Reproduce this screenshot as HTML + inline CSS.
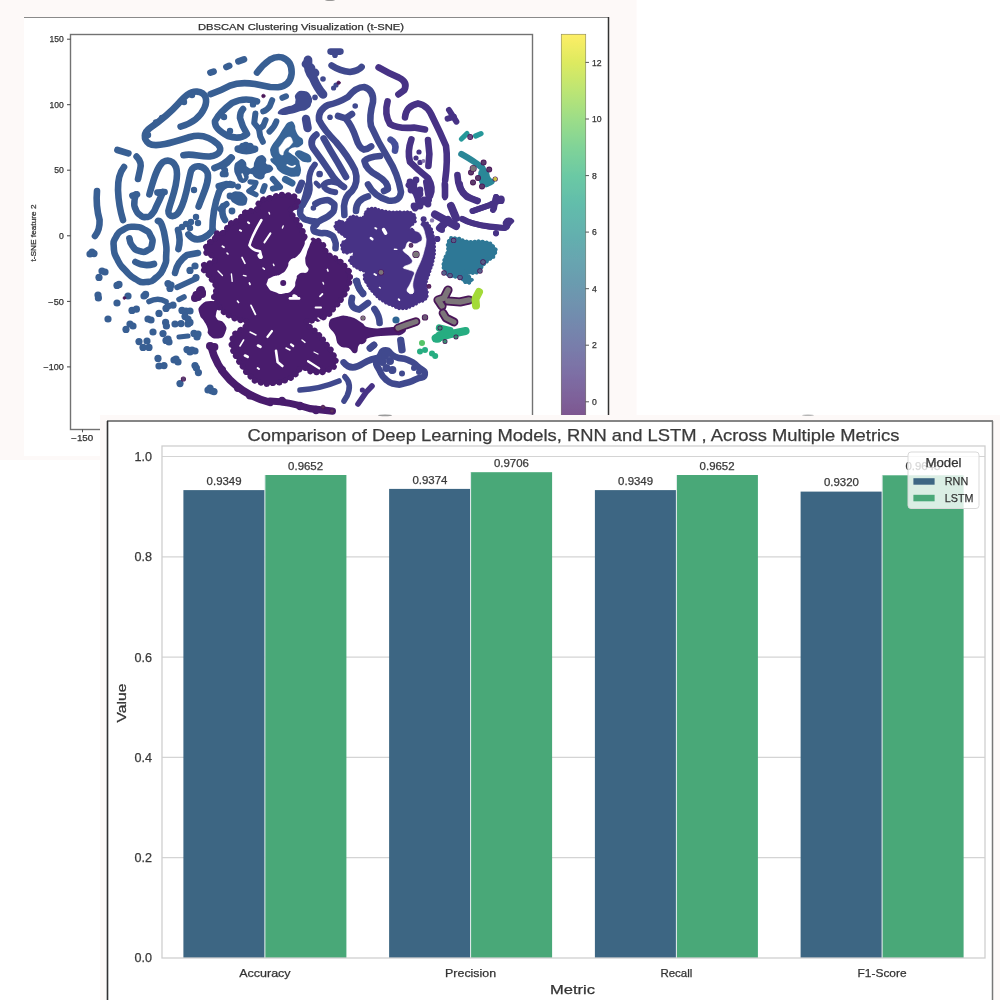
<!DOCTYPE html>
<html><head><meta charset="utf-8">
<style>
html,body{margin:0;padding:0;background:#fff;}
body{width:1000px;height:1000px;overflow:hidden;position:relative;font-family:"Liberation Sans",sans-serif;}
svg{position:absolute;left:0;top:0;display:block;}
text{font-family:"Liberation Sans",sans-serif;}
</style></head><body>
<svg width="1000" height="1000" viewBox="0 0 1000 1000">
<defs>
<linearGradient id="cb" x1="0" y1="1" x2="0" y2="0">
<stop offset="0.0000" stop-color="#7c4d87"/>
<stop offset="0.0714" stop-color="#7e5f98"/>
<stop offset="0.1429" stop-color="#7d6fa5"/>
<stop offset="0.2143" stop-color="#787eab"/>
<stop offset="0.2857" stop-color="#728cae"/>
<stop offset="0.3571" stop-color="#6c99af"/>
<stop offset="0.4286" stop-color="#67a5b0"/>
<stop offset="0.5000" stop-color="#63b1ae"/>
<stop offset="0.5714" stop-color="#62bdab"/>
<stop offset="0.6429" stop-color="#6bc9a4"/>
<stop offset="0.7143" stop-color="#80d398"/>
<stop offset="0.7857" stop-color="#9cdd88"/>
<stop offset="0.8571" stop-color="#bce574"/>
<stop offset="0.9286" stop-color="#ddea60"/>
<stop offset="1.0000" stop-color="#fdee66"/>
</linearGradient>
<filter id="bl" x="-2%" y="-2%" width="104%" height="104%"><feGaussianBlur stdDeviation="0.5"/></filter>
<filter id="bl2" x="-2%" y="-2%" width="104%" height="104%"><feGaussianBlur stdDeviation="0.45"/></filter>
<clipPath id="axclip"><rect x="71" y="35" width="461" height="394"/></clipPath>
</defs>
<rect x="0" y="0" width="636.6" height="460" fill="#fdf9f8"/>
<rect x="24" y="17" width="585" height="439" fill="#ffffff"/>
<g id="fig1" filter="url(#bl)" style="paint-order:stroke">
<ellipse cx="330" cy="-0.2" rx="5" ry="1" fill="#777"/>
<line x1="24" y1="17.5" x2="609" y2="17.5" stroke="#8a8a8a" stroke-width="1"/>
<line x1="608.5" y1="17" x2="608.5" y2="416" stroke="#333" stroke-width="1.5"/>
<g id="scatter" clip-path="url(#axclip)" fill="none" stroke-linecap="round" stroke-linejoin="round">
<g transform="translate(70,30) scale(0.2)">
<path d="M702 213 L718 208" stroke="#395e93" stroke-width="33"/>
<path d="M782 185 L796 179" stroke="#395e93" stroke-width="33"/>
<path d="M842 157 L870 147" stroke="#395e93" stroke-width="33"/>
<path d="M935 213 Q965 172 1000 148 Q1030 130 1060 137 Q1112 155 1108 220 Q1100 280 1040 286 L1000 285 L925 270 Q850 258 800 278 Q760 300 703 321" stroke="#395e93" stroke-width="33"/>
<path d="M553 483 C600 470 650 440 672 390 C690 350 680 312 635 308 C600 305 570 335 540 370 C500 415 450 455 400 490 C368 512 365 545 395 568 C430 590 520 560 600 535 C650 520 700 535 740 572 C765 600 745 628 700 632 C650 635 610 615 567 626" stroke="#395e93" stroke-width="33"/>
<circle cx="570" cy="360" r="16" fill="#395e93" stroke="none"/>
<circle cx="610" cy="325" r="16" fill="#395e93" stroke="none"/>
<circle cx="460" cy="440" r="16" fill="#395e93" stroke="none"/>
<circle cx="430" cy="462" r="16" fill="#395e93" stroke="none"/>
<circle cx="390" cy="525" r="16" fill="#395e93" stroke="none"/>
<path d="M237 600 L292 617" stroke="#395e93" stroke-width="33"/>
<path d="M333 633 Q362 660 350 700 L340 745" stroke="#395e93" stroke-width="33"/>
<path d="M270 685 Q238 725 240 800 Q243 880 265 950" stroke="#395e93" stroke-width="33"/>
<path d="M135 805 Q128 880 148 950 Q150 1000 125 1030" stroke="#395e93" stroke-width="33"/>
<path d="M330.0 822.0 C327.3 834.7 322.7 835.7 322.0 860.0 C321.3 884.3 318.7 873.3 328.0 895.0 C337.3 916.7 332.7 911.7 350.0 925.0 C367.3 938.3 360.0 936.7 380.0 935.0 C400.0 933.3 391.7 940.0 410.0 920.0 C428.3 900.0 416.7 911.7 435.0 875.0 C453.3 838.3 455.0 831.7 465.0 810.0" stroke="#395e93" stroke-width="33"/>
<path d="M312 828 L335 822" stroke="#395e93" stroke-width="33"/>
<path d="M437 813 L473 810" stroke="#395e93" stroke-width="33"/>
<path d="M397 822 C415 760 430 690 465 660 C500 640 535 665 535 720 C535 790 505 850 492 905 C490 940 530 940 550 900 C580 850 590 760 605 705 C620 670 670 675 688 715 C700 760 660 830 643 883" stroke="#395e93" stroke-width="33"/>
<circle cx="620" cy="800" r="16" fill="#395e93" stroke="none"/>
<path d="M722 690 Q770 675 805 638" stroke="#395e93" stroke-width="33"/>
<path d="M712 1000 Q712 900 745 810 Q760 775 800 770" stroke="#395e93" stroke-width="33"/>
<path d="M935 357 Q870 335 810 365 Q750 410 725 455 Q720 495 790 530 Q850 550 885 520 Q860 480 850 440 Q850 410 865 395" stroke="#395e93" stroke-width="33"/>
<circle cx="770" cy="435" r="16" fill="#395e93" stroke="none"/>
<circle cx="800" cy="505" r="16" fill="#395e93" stroke="none"/>
<circle cx="915" cy="372" r="16" fill="#395e93" stroke="none"/>
<path d="M765 880 Q755 920 775 950" stroke="#395e93" stroke-width="33"/>
<circle cx="810" cy="905" r="17" fill="#395e93" stroke="none"/>
<circle cx="800" cy="830" r="17" fill="#395e93" stroke="none"/>
<circle cx="580" cy="970" r="16" fill="#395e93" stroke="none"/>
<circle cx="605" cy="960" r="16" fill="#395e93" stroke="none"/>
<circle cx="630" cy="935" r="16" fill="#395e93" stroke="none"/>
<circle cx="640" cy="965" r="16" fill="#395e93" stroke="none"/>
<circle cx="600" cy="990" r="16" fill="#395e93" stroke="none"/>
<circle cx="560" cy="985" r="16" fill="#395e93" stroke="none"/>
<circle cx="967" cy="330" r="9" fill="#4a1458" stroke="#4a1458" stroke-width="3"/>
</g>
<g transform="translate(270,30) scale(0.2)">
<path d="M190 150 Q185 200 215 238 Q237 290 265 322" stroke="#414a8e" stroke-width="44"/>
<circle cx="205" cy="190" r="22" fill="#414a8e" stroke="none"/>
<circle cx="225" cy="215" r="22" fill="#414a8e" stroke="none"/>
<circle cx="180" cy="170" r="22" fill="#414a8e" stroke="none"/>
<circle cx="265" cy="245" r="14" fill="#414a8e" stroke="none"/>
<circle cx="225" cy="337" r="14" fill="#414a8e" stroke="none"/>
<path d="M303 108 L352 108" stroke="#414a8e" stroke-width="33"/>
<circle cx="325" cy="126" r="14" fill="#414a8e" stroke="none"/>
<path d="M308 177 Q350 205 400 210 Q440 205 458 185" stroke="#414a8e" stroke-width="33"/>
<circle cx="318" cy="290" r="13" fill="#414a8e" stroke="none"/>
<circle cx="330" cy="275" r="13" fill="#414a8e" stroke="none"/>
<circle cx="343" cy="264" r="9" fill="#4a1458" stroke="#4a1458" stroke-width="3"/>
<path d="M180 445 L188 490" stroke="#414a8e" stroke-width="42"/>
<path d="M490 772 Q520 830 590 852 Q650 862 655 810 Q640 720 590 640 Q540 560 505 480 Q495 430 515 360 Q520 300 470 285 Q430 285 390 335 Q340 365 290 375 Q240 400 245 450 Q270 500 330 560 Q390 630 425 700 Q445 760 410 805 Q375 830 370 880 L372 925" stroke="#414a8e" stroke-width="33"/>
<path d="M340 430 L378 442 L410 420 M378 442 Q410 480 430 540 Q445 590 470 598 Q490 595 506 582" stroke="#414a8e" stroke-width="33"/>
<circle cx="300" cy="436" r="14" fill="#414a8e" stroke="none"/>
<circle cx="426" cy="380" r="14" fill="#414a8e" stroke="none"/>
<path d="M232 523 Q195 550 215 590 Q260 650 300 710 Q330 760 370 785" stroke="#414a8e" stroke-width="33"/>
<path d="M268 542 Q300 600 340 665 L380 735" stroke="#414a8e" stroke-width="33"/>
<path d="M550 630 Q490 635 472 655 Q480 700 540 730 Q590 760 590 795 L570 805" stroke="#414a8e" stroke-width="33"/>
<path d="M543 187 Q590 215 645 238 Q690 260 672 300 L642 322" stroke="#473285" stroke-width="33"/>
<path d="M588 357 Q570 420 600 470 Q640 495 720 488 L775 497" stroke="#473285" stroke-width="33"/>
<path d="M675 437 Q680 380 740 367 Q790 375 815 440 Q850 510 880 580 Q890 650 876 750" stroke="#473285" stroke-width="33"/>
<path d="M875 775 L875 830" stroke="#473285" stroke-width="33"/>
<path d="M603 548 Q635 565 625 603" stroke="#44509a" stroke-width="33"/>
<path d="M707 547 Q685 610 700 660 Q740 700 790 740 Q820 790 800 830" stroke="#473285" stroke-width="33"/>
<path d="M790 550 L797 620 L792 680" stroke="#473285" stroke-width="33"/>
<circle cx="745" cy="610" r="13" fill="#473285" stroke="none"/>
<circle cx="730" cy="640" r="13" fill="#473285" stroke="none"/>
<circle cx="750" cy="662" r="13" fill="#473285" stroke="none"/>
<circle cx="767" cy="655" r="10" fill="#8a7ab0" stroke="none"/>
<circle cx="700" cy="760" r="17" fill="#473285" stroke="none"/>
<circle cx="730" cy="750" r="17" fill="#473285" stroke="none"/>
<circle cx="720" cy="790" r="17" fill="#473285" stroke="none"/>
<circle cx="750" cy="800" r="17" fill="#473285" stroke="none"/>
<circle cx="740" cy="830" r="17" fill="#473285" stroke="none"/>
<circle cx="770" cy="850" r="17" fill="#473285" stroke="none"/>
<circle cx="720" cy="880" r="17" fill="#473285" stroke="none"/>
<circle cx="750" cy="880" r="17" fill="#473285" stroke="none"/>
<circle cx="700" cy="775" r="17" fill="#473285" stroke="none"/>
<path d="M191.0 773.0 C184.5 799.0 184.5 809.8 171.5 851.0 C158.5 892.2 155.2 868.3 152.0 896.5 C148.8 924.7 146.6 916.7 161.8 935.5 C177.0 954.3 173.7 943.9 197.5 953.0 C221.3 962.1 226.7 949.1 233.2 962.8 C239.7 976.5 213.7 977.1 217.0 994.0 C220.3 1010.9 217.0 1004.8 243.0 1013.5 C269.0 1022.2 267.9 1007.0 295.0 1020.0 C322.1 1033.0 313.4 1028.7 324.2 1052.5 C335.0 1076.3 326.4 1078.5 327.5 1091.5" stroke="#414a8e" stroke-width="33"/>
<path d="M226.8 869.2 C240.9 863.6 241.9 855.1 269.0 852.3 C296.1 849.5 290.7 848.2 308.0 860.8 C325.3 873.4 323.2 869.4 321.0 890.0 C318.8 910.6 322.1 903.0 301.5 922.5 C280.9 942.0 282.0 935.1 259.2 948.5 C236.4 961.9 241.9 958.0 233.2 962.8" stroke="#414a8e" stroke-width="33"/>
<circle cx="217" cy="890" r="14" fill="#414a8e" stroke="none"/>
<path d="M430 905 Q430 850 490 832" stroke="#414a8e" stroke-width="33"/>
</g>
<g transform="translate(430,30) scale(0.2)">
<path d="M95 400 L132 458 M88 443 L120 434" stroke="#473285" stroke-width="30"/>
<path d="M157 545 L185 518" stroke="#25989a" stroke-width="26"/>
<path d="M228 530 L255 518" stroke="#25989a" stroke-width="26"/>
<circle cx="201" cy="535" r="11" fill="#6a4a80" stroke="#4a1458" stroke-width="7"/>
<path d="M157 620 Q220 655 262 690 Q285 730 278 770" stroke="#2a8797" stroke-width="32"/>
<path d="M255.0 700.0 C268.3 693.3 270.0 691.7 285.0 705.0 C300.0 718.3 288.3 723.3 300.0 740.0 C311.7 756.7 320.0 743.3 320.0 755.0 C320.0 766.7 316.7 766.7 300.0 775.0 C283.3 783.3 286.7 785.0 270.0 780.0 C253.3 775.0 258.3 778.3 250.0 760.0 C241.7 741.7 243.3 745.0 245.0 725.0 C246.7 705.0 241.7 706.7 255.0 700.0Z" fill="#2a8797" stroke="#2a8797" stroke-width="8"/>
<circle cx="268" cy="662" r="11" fill="#5a3a6a" stroke="#4a1458" stroke-width="8"/>
<circle cx="296" cy="698" r="11" fill="#5a3a6a" stroke="#4a1458" stroke-width="8"/>
<circle cx="205" cy="712" r="11" fill="#5a3a6a" stroke="#4a1458" stroke-width="8"/>
<circle cx="240" cy="740" r="11" fill="#5a3a6a" stroke="#4a1458" stroke-width="8"/>
<circle cx="215" cy="762" r="11" fill="#5a3a6a" stroke="#4a1458" stroke-width="8"/>
<circle cx="260" cy="782" r="11" fill="#5a3a6a" stroke="#4a1458" stroke-width="8"/>
<circle cx="216" cy="692" r="14" fill="#7c7479" stroke="#4a1458" stroke-width="7"/>
<circle cx="326" cy="745" r="10" fill="#c8c040" stroke="#4a1458" stroke-width="6"/>
<path d="M137 725 Q140 800 185 835 L235 855" stroke="#473285" stroke-width="33"/>
<path d="M215 905 L300 875 L350 850 M330 835 L320 892" stroke="#473285" stroke-width="30"/>
<circle cx="340" cy="848" r="18" fill="#473285" stroke="none"/>
<circle cx="355" cy="852" r="18" fill="#473285" stroke="none"/>
<path d="M160 945 Q200 970 300 982 L375 990" stroke="#473285" stroke-width="30"/>
<path d="M375.0 955.0 C388.3 946.7 401.7 943.3 410.0 950.0 C418.3 956.7 408.3 960.0 400.0 975.0 C391.7 990.0 395.0 995.0 385.0 995.0 C375.0 995.0 373.3 988.3 370.0 975.0 C366.7 961.7 361.7 963.3 375.0 955.0Z" fill="#473285" stroke="#473285" stroke-width="8"/>
</g>
<g transform="translate(70,230) scale(0.2)">
<path d="M440.0 -45.0 C446.3 -38.3 446.7 -56.7 459.0 -25.0 C471.3 6.7 469.7 0.0 477.0 50.0 C484.3 100.0 483.3 80.0 481.0 125.0 C478.7 170.0 486.3 147.7 470.0 185.0 C453.7 222.3 462.0 212.0 432.0 237.0 C402.0 262.0 415.0 257.3 380.0 260.0 C345.0 262.7 362.0 265.0 327.0 245.0 C292.0 225.0 305.0 232.7 275.0 200.0 C245.0 167.3 255.7 184.7 237.0 147.0 C218.3 109.3 221.3 124.3 219.0 87.0 C216.7 49.7 214.0 64.7 230.0 35.0 C246.0 5.3 237.0 15.0 267.0 -2.0 C297.0 -19.0 285.0 -16.0 320.0 -16.0 C355.0 -16.0 344.7 -16.3 372.0 -2.0 C399.3 12.3 389.3 2.3 402.0 27.0 C414.7 51.7 415.0 47.0 410.0 72.0 C405.0 97.0 407.0 90.7 387.0 102.0 C367.0 113.3 375.0 113.3 350.0 106.0 C325.0 98.7 329.7 101.3 312.0 80.0 C294.3 58.7 302.0 54.7 297.0 42.0" stroke="#395e93" stroke-width="33"/>
<path d="M327 160 Q370 185 420 170" stroke="#395e93" stroke-width="33"/>
<path d="M540 0 Q555 50 542 95" stroke="#395e93" stroke-width="33"/>
<path d="M592 22 Q630 70 690 25 L715 0" stroke="#395e93" stroke-width="33"/>
<path d="M525 215 Q535 160 585 125 L640 115" stroke="#395e93" stroke-width="33"/>
<circle cx="110" cy="110" r="18" fill="#395e93" stroke="none"/>
<circle cx="120" cy="118" r="18" fill="#395e93" stroke="none"/>
<circle cx="100" cy="120" r="18" fill="#395e93" stroke="none"/>
<circle cx="160" cy="205" r="18" fill="#395e93" stroke="none"/>
<circle cx="175" cy="210" r="18" fill="#395e93" stroke="none"/>
<circle cx="145" cy="237" r="18" fill="#395e93" stroke="none"/>
<circle cx="235" cy="277" r="18" fill="#395e93" stroke="none"/>
<circle cx="245" cy="272" r="18" fill="#395e93" stroke="none"/>
<circle cx="140" cy="325" r="18" fill="#395e93" stroke="none"/>
<circle cx="142" cy="340" r="18" fill="#395e93" stroke="none"/>
<circle cx="290" cy="330" r="18" fill="#395e93" stroke="none"/>
<circle cx="370" cy="330" r="18" fill="#395e93" stroke="none"/>
<circle cx="378" cy="322" r="18" fill="#395e93" stroke="none"/>
<circle cx="235" cy="365" r="18" fill="#395e93" stroke="none"/>
<circle cx="310" cy="402" r="18" fill="#395e93" stroke="none"/>
<circle cx="332" cy="396" r="18" fill="#395e93" stroke="none"/>
<circle cx="190" cy="445" r="18" fill="#395e93" stroke="none"/>
<circle cx="300" cy="470" r="18" fill="#395e93" stroke="none"/>
<circle cx="315" cy="480" r="18" fill="#395e93" stroke="none"/>
<circle cx="280" cy="497" r="18" fill="#395e93" stroke="none"/>
<circle cx="390" cy="445" r="18" fill="#395e93" stroke="none"/>
<circle cx="405" cy="450" r="18" fill="#395e93" stroke="none"/>
<circle cx="415" cy="510" r="18" fill="#395e93" stroke="none"/>
<circle cx="345" cy="558" r="18" fill="#395e93" stroke="none"/>
<circle cx="385" cy="555" r="18" fill="#395e93" stroke="none"/>
<circle cx="365" cy="587" r="18" fill="#395e93" stroke="none"/>
<circle cx="395" cy="587" r="18" fill="#395e93" stroke="none"/>
<circle cx="440" cy="642" r="18" fill="#395e93" stroke="none"/>
<circle cx="445" cy="680" r="18" fill="#395e93" stroke="none"/>
<circle cx="470" cy="678" r="18" fill="#395e93" stroke="none"/>
<circle cx="520" cy="650" r="18" fill="#395e93" stroke="none"/>
<circle cx="540" cy="660" r="18" fill="#395e93" stroke="none"/>
<circle cx="530" cy="645" r="18" fill="#395e93" stroke="none"/>
<circle cx="550" cy="768" r="18" fill="#395e93" stroke="none"/>
<circle cx="625" cy="678" r="18" fill="#395e93" stroke="none"/>
<circle cx="632" cy="690" r="18" fill="#395e93" stroke="none"/>
<circle cx="642" cy="713" r="18" fill="#395e93" stroke="none"/>
<circle cx="690" cy="800" r="18" fill="#395e93" stroke="none"/>
<circle cx="710" cy="805" r="18" fill="#395e93" stroke="none"/>
<circle cx="700" cy="790" r="18" fill="#395e93" stroke="none"/>
<circle cx="720" cy="808" r="18" fill="#395e93" stroke="none"/>
<circle cx="585" cy="598" r="18" fill="#395e93" stroke="none"/>
<circle cx="610" cy="600" r="18" fill="#395e93" stroke="none"/>
<circle cx="625" cy="605" r="18" fill="#395e93" stroke="none"/>
<circle cx="600" cy="610" r="18" fill="#395e93" stroke="none"/>
<circle cx="480" cy="552" r="18" fill="#395e93" stroke="none"/>
<circle cx="495" cy="560" r="18" fill="#395e93" stroke="none"/>
<circle cx="490" cy="545" r="18" fill="#395e93" stroke="none"/>
<circle cx="465" cy="518" r="18" fill="#395e93" stroke="none"/>
<circle cx="478" cy="462" r="18" fill="#395e93" stroke="none"/>
<circle cx="482" cy="480" r="18" fill="#395e93" stroke="none"/>
<circle cx="525" cy="470" r="18" fill="#395e93" stroke="none"/>
<circle cx="555" cy="468" r="18" fill="#395e93" stroke="none"/>
<circle cx="600" cy="462" r="18" fill="#395e93" stroke="none"/>
<circle cx="590" cy="470" r="18" fill="#395e93" stroke="none"/>
<circle cx="560" cy="402" r="18" fill="#395e93" stroke="none"/>
<circle cx="580" cy="405" r="18" fill="#395e93" stroke="none"/>
<circle cx="600" cy="405" r="18" fill="#395e93" stroke="none"/>
<circle cx="575" cy="432" r="18" fill="#395e93" stroke="none"/>
<circle cx="590" cy="445" r="18" fill="#395e93" stroke="none"/>
<circle cx="620" cy="517" r="18" fill="#395e93" stroke="none"/>
<circle cx="635" cy="535" r="18" fill="#395e93" stroke="none"/>
<circle cx="640" cy="520" r="18" fill="#395e93" stroke="none"/>
<circle cx="445" cy="417" r="18" fill="#395e93" stroke="none"/>
<circle cx="480" cy="392" r="18" fill="#395e93" stroke="none"/>
<circle cx="490" cy="380" r="18" fill="#395e93" stroke="none"/>
<circle cx="515" cy="376" r="18" fill="#395e93" stroke="none"/>
<circle cx="490" cy="268" r="18" fill="#395e93" stroke="none"/>
<circle cx="500" cy="292" r="18" fill="#395e93" stroke="none"/>
<circle cx="505" cy="275" r="18" fill="#395e93" stroke="none"/>
<circle cx="600" cy="202" r="18" fill="#395e93" stroke="none"/>
<circle cx="625" cy="180" r="18" fill="#395e93" stroke="none"/>
<circle cx="630" cy="238" r="18" fill="#395e93" stroke="none"/>
<circle cx="272" cy="340" r="7" fill="#4a1458" stroke="#4a1458" stroke-width="3"/>
<circle cx="567" cy="745" r="10" fill="#5a3a70" stroke="#4a1458" stroke-width="6"/>
<path d="M395 358 Q440 335 480 358" stroke="#395e93" stroke-width="28"/>
<path d="M545 347 L570 335" stroke="#395e93" stroke-width="28"/>
<path d="M535 287 L630 243" stroke="#395e93" stroke-width="28"/>
<path d="M545 535 L590 530" stroke="#395e93" stroke-width="26"/>
<circle cx="632" cy="325" r="20" fill="#481b6d" stroke="none"/>
<circle cx="655" cy="300" r="20" fill="#481b6d" stroke="none"/>
<circle cx="640" cy="335" r="20" fill="#481b6d" stroke="none"/>
<circle cx="625" cy="340" r="20" fill="#481b6d" stroke="none"/>
<circle cx="660" cy="312" r="20" fill="#481b6d" stroke="none"/>
<path d="M705 582 Q730 680 800 750 Q880 830 1000 862" stroke="#481b6d" stroke-width="38"/>
<circle cx="700" cy="580" r="20" fill="#481b6d" stroke="none"/>
<circle cx="722" cy="585" r="20" fill="#481b6d" stroke="none"/>
<circle cx="760" cy="700" r="20" fill="#481b6d" stroke="none"/>
<circle cx="840" cy="790" r="20" fill="#481b6d" stroke="none"/>
<circle cx="900" cy="828" r="20" fill="#481b6d" stroke="none"/>
</g>
<g transform="translate(190,180) scale(0.2)">
<path d="M400.0 90.0 C443.3 78.3 435.0 71.7 480.0 75.0 C525.0 78.3 520.0 78.3 535.0 100.0 C550.0 121.7 535.0 120.0 525.0 140.0 C515.0 160.0 498.3 133.3 505.0 160.0 C511.7 186.7 521.7 176.7 545.0 220.0 C568.3 263.3 562.7 253.3 575.0 290.0 C587.3 326.7 573.7 323.3 582.0 330.0 C590.3 336.7 577.3 316.7 600.0 310.0 C622.7 303.3 620.0 290.0 650.0 310.0 C680.0 330.0 660.0 340.0 690.0 370.0 C720.0 400.0 710.0 376.7 740.0 400.0 C770.0 423.3 760.0 413.3 780.0 440.0 C800.0 466.7 798.3 446.7 800.0 480.0 C801.7 513.3 798.3 503.3 785.0 540.0 C771.7 576.7 781.7 556.7 760.0 590.0 C738.3 623.3 746.7 610.0 720.0 640.0 C693.3 670.0 713.3 660.0 680.0 680.0 C646.7 700.0 651.7 688.3 620.0 700.0 C588.3 711.7 578.3 691.7 585.0 715.0 C591.7 738.3 608.3 735.0 640.0 770.0 C671.7 805.0 655.0 786.7 680.0 820.0 C705.0 853.3 700.0 838.3 715.0 870.0 C730.0 901.7 733.3 888.3 725.0 915.0 C716.7 941.7 725.0 935.0 690.0 950.0 C655.0 965.0 661.7 963.3 620.0 960.0 C578.3 956.7 595.0 936.7 565.0 940.0 C535.0 943.3 558.3 950.0 530.0 970.0 C501.7 990.0 516.7 985.0 480.0 1000.0 C443.3 1015.0 463.3 1011.0 420.0 1015.0 C376.7 1019.0 390.0 1023.7 350.0 1012.0 C310.0 1000.3 328.3 1005.7 300.0 980.0 C271.7 954.3 286.7 965.0 265.0 935.0 C243.3 905.0 252.7 921.7 235.0 890.0 C217.3 858.3 219.7 871.7 212.0 840.0 C204.3 808.3 204.3 821.7 212.0 795.0 C219.7 768.3 215.7 778.3 235.0 760.0 C254.3 741.7 253.3 756.0 270.0 740.0 C286.7 724.0 291.7 725.3 285.0 712.0 C278.3 698.7 278.3 710.7 250.0 700.0 C221.7 689.3 233.3 700.0 200.0 680.0 C166.7 660.0 173.3 666.7 150.0 640.0 C126.7 613.3 140.0 620.0 130.0 600.0 C120.0 580.0 120.0 600.0 120.0 580.0 C120.0 560.0 133.3 566.7 130.0 540.0 C126.7 513.3 123.3 523.3 110.0 500.0 C96.7 476.7 105.0 490.0 90.0 470.0 C75.0 450.0 68.3 456.7 65.0 440.0 C61.7 423.3 61.7 430.0 80.0 420.0 C98.3 410.0 110.0 423.3 120.0 410.0 C130.0 396.7 123.3 396.7 110.0 380.0 C96.7 363.3 86.7 380.0 80.0 360.0 C73.3 340.0 76.7 340.0 90.0 320.0 C103.3 300.0 106.7 316.7 120.0 300.0 C133.3 283.3 113.3 283.3 130.0 270.0 C146.7 256.7 146.7 276.7 170.0 260.0 C193.3 243.3 176.7 240.0 200.0 220.0 C223.3 200.0 213.3 220.0 240.0 200.0 C266.7 180.0 250.0 176.7 280.0 160.0 C310.0 143.3 306.7 166.7 330.0 150.0 C353.3 133.3 326.7 130.0 350.0 110.0 C373.3 90.0 356.7 101.7 400.0 90.0Z" fill="#481b6d" stroke="#481b6d" stroke-width="12"/>
<path d="M400.0 90.0 C443.3 78.3 435.0 71.7 480.0 75.0 C525.0 78.3 520.0 78.3 535.0 100.0 C550.0 121.7 535.0 120.0 525.0 140.0 C515.0 160.0 498.3 133.3 505.0 160.0 C511.7 186.7 521.7 176.7 545.0 220.0 C568.3 263.3 562.7 253.3 575.0 290.0 C587.3 326.7 573.7 323.3 582.0 330.0 C590.3 336.7 577.3 316.7 600.0 310.0 C622.7 303.3 620.0 290.0 650.0 310.0 C680.0 330.0 660.0 340.0 690.0 370.0 C720.0 400.0 710.0 376.7 740.0 400.0 C770.0 423.3 760.0 413.3 780.0 440.0 C800.0 466.7 798.3 446.7 800.0 480.0 C801.7 513.3 798.3 503.3 785.0 540.0 C771.7 576.7 781.7 556.7 760.0 590.0 C738.3 623.3 746.7 610.0 720.0 640.0 C693.3 670.0 713.3 660.0 680.0 680.0 C646.7 700.0 651.7 688.3 620.0 700.0 C588.3 711.7 578.3 691.7 585.0 715.0 C591.7 738.3 608.3 735.0 640.0 770.0 C671.7 805.0 655.0 786.7 680.0 820.0 C705.0 853.3 700.0 838.3 715.0 870.0 C730.0 901.7 733.3 888.3 725.0 915.0 C716.7 941.7 725.0 935.0 690.0 950.0 C655.0 965.0 661.7 963.3 620.0 960.0 C578.3 956.7 595.0 936.7 565.0 940.0 C535.0 943.3 558.3 950.0 530.0 970.0 C501.7 990.0 516.7 985.0 480.0 1000.0 C443.3 1015.0 463.3 1011.0 420.0 1015.0 C376.7 1019.0 390.0 1023.7 350.0 1012.0 C310.0 1000.3 328.3 1005.7 300.0 980.0 C271.7 954.3 286.7 965.0 265.0 935.0 C243.3 905.0 252.7 921.7 235.0 890.0 C217.3 858.3 219.7 871.7 212.0 840.0 C204.3 808.3 204.3 821.7 212.0 795.0 C219.7 768.3 215.7 778.3 235.0 760.0 C254.3 741.7 253.3 756.0 270.0 740.0 C286.7 724.0 291.7 725.3 285.0 712.0 C278.3 698.7 278.3 710.7 250.0 700.0 C221.7 689.3 233.3 700.0 200.0 680.0 C166.7 660.0 173.3 666.7 150.0 640.0 C126.7 613.3 140.0 620.0 130.0 600.0 C120.0 580.0 120.0 600.0 120.0 580.0 C120.0 560.0 133.3 566.7 130.0 540.0 C126.7 513.3 123.3 523.3 110.0 500.0 C96.7 476.7 105.0 490.0 90.0 470.0 C75.0 450.0 68.3 456.7 65.0 440.0 C61.7 423.3 61.7 430.0 80.0 420.0 C98.3 410.0 110.0 423.3 120.0 410.0 C130.0 396.7 123.3 396.7 110.0 380.0 C96.7 363.3 86.7 380.0 80.0 360.0 C73.3 340.0 76.7 340.0 90.0 320.0 C103.3 300.0 106.7 316.7 120.0 300.0 C133.3 283.3 113.3 283.3 130.0 270.0 C146.7 256.7 146.7 276.7 170.0 260.0 C193.3 243.3 176.7 240.0 200.0 220.0 C223.3 200.0 213.3 220.0 240.0 200.0 C266.7 180.0 250.0 176.7 280.0 160.0 C310.0 143.3 306.7 166.7 330.0 150.0 C353.3 133.3 326.7 130.0 350.0 110.0 C373.3 90.0 356.7 101.7 400.0 90.0Z" fill="none" stroke="#481b6d" stroke-width="30" stroke-dasharray="0.1 31"/>
<path d="M60.0 630.0 C41.7 649.3 50.0 646.7 55.0 670.0 C60.0 693.3 61.7 676.7 75.0 700.0 C88.3 723.3 86.7 716.7 95.0 740.0 C103.3 763.3 85.0 755.0 100.0 770.0 C115.0 785.0 116.7 788.3 140.0 785.0 C163.3 781.7 161.7 781.7 170.0 760.0 C178.3 738.3 178.3 740.0 165.0 720.0 C151.7 700.0 143.3 720.0 130.0 700.0 C116.7 680.0 121.7 683.3 125.0 660.0 C128.3 636.7 145.0 646.0 140.0 630.0 C135.0 614.0 136.7 612.0 110.0 612.0 C83.3 612.0 78.3 610.7 60.0 630.0Z" fill="#481b6d" stroke="#481b6d" stroke-width="14"/>
<circle cx="50" cy="555" r="20" fill="#481b6d" stroke="none"/>
<circle cx="32" cy="585" r="20" fill="#481b6d" stroke="none"/>
<circle cx="60" cy="570" r="20" fill="#481b6d" stroke="none"/>
<circle cx="40" cy="572" r="20" fill="#481b6d" stroke="none"/>
<path d="M700.0 720.0 C703.3 693.3 706.7 700.0 740.0 690.0 C773.3 680.0 763.3 681.7 800.0 690.0 C836.7 698.3 816.7 696.7 850.0 715.0 C883.3 733.3 850.0 736.0 900.0 745.0 C950.0 754.0 946.7 745.3 1000.0 742.0 C1053.3 738.7 1040.0 727.3 1060.0 735.0 C1080.0 742.7 1080.0 752.7 1060.0 765.0 C1040.0 777.3 1053.3 766.3 1000.0 772.0 C946.7 777.7 943.3 769.3 900.0 782.0 C856.7 794.7 890.0 796.7 870.0 810.0 C850.0 823.3 855.0 805.3 840.0 822.0 C825.0 838.7 840.0 855.7 825.0 860.0 C810.0 864.3 820.0 847.7 795.0 835.0 C770.0 822.3 771.7 843.7 750.0 822.0 C728.3 800.3 746.7 804.0 730.0 770.0 C713.3 736.0 696.7 746.7 700.0 720.0Z" fill="#481b6d" stroke="#481b6d" stroke-width="12"/>
<path d="M580.0 300.0 C567.0 311.7 581.3 308.3 567.0 335.0 C552.7 361.7 559.3 357.7 537.0 380.0 C514.7 402.3 517.3 382.0 500.0 402.0 C482.7 422.0 500.0 417.3 485.0 440.0 C470.0 462.7 480.0 455.0 455.0 470.0 C430.0 485.0 432.7 472.7 410.0 485.0 C387.3 497.3 393.3 489.7 387.0 507.0 C380.7 524.3 378.3 519.3 391.0 537.0 C403.7 554.7 398.7 550.0 425.0 560.0 C451.3 570.0 440.0 572.0 470.0 567.0 C500.0 562.0 495.0 567.3 515.0 545.0 C535.0 522.7 520.0 525.0 530.0 500.0 C540.0 475.0 525.0 485.0 545.0 470.0 C565.0 455.0 579.3 475.0 590.0 455.0 C600.7 435.0 579.0 440.0 577.0 410.0 C575.0 380.0 577.0 392.7 584.0 365.0 C591.0 337.3 590.7 348.7 598.0 327.0 C605.3 305.3 612.0 309.0 606.0 300.0 C600.0 291.0 593.0 288.3 580.0 300.0Z" fill="#ffffff" stroke="none"/>
<circle cx="466" cy="515" r="15" fill="#481b6d" stroke="none"/>
<path d="M357 200 Q312 275 297 327 Q312 352 350 357 L357 387" stroke="#ffffff" stroke-width="13"/>
<path d="M348 378 L352 384" stroke="#ffffff" stroke-width="22"/>
<path d="M402 267 L372 312" stroke="#ffffff" stroke-width="10"/>
<path d="M500 592 L545 592" stroke="#ffffff" stroke-width="14"/>
<path d="M520 580 L530 584" stroke="#ffffff" stroke-width="18"/>
<path d="M628 637 L655 637" stroke="#ffffff" stroke-width="10"/>
<path d="M650 582 L662 570" stroke="#ffffff" stroke-width="9"/>
<path d="M687 447 L690 455" stroke="#ffffff" stroke-width="8"/>
<path d="M665 512 L668 520" stroke="#ffffff" stroke-width="7"/>
<path d="M305 627 L327 672" stroke="#ffffff" stroke-width="9"/>
<path d="M410 755 L387 785" stroke="#ffffff" stroke-width="11"/>
<path d="M340 828 L352 834" stroke="#ffffff" stroke-width="14"/>
<path d="M275 878 L288 884" stroke="#ffffff" stroke-width="14"/>
<path d="M430 854 L438 910 L462 930" stroke="#ffffff" stroke-width="13"/>
<path d="M590 906 L646 942" stroke="#ffffff" stroke-width="11"/>
<path d="M505 822 L516 830" stroke="#ffffff" stroke-width="11"/>
<path d="M250 830 L268 800" stroke="#ffffff" stroke-width="8"/>
<path d="M338 940 L345 945" stroke="#ffffff" stroke-width="10"/>
<path d="M260 387 L275 417" stroke="#ffffff" stroke-width="8"/>
<path d="M207 470 L211 507" stroke="#ffffff" stroke-width="7"/>
<path d="M140 455 L162 477" stroke="#ffffff" stroke-width="7"/>
<path d="M162 331 L170 336" stroke="#ffffff" stroke-width="9"/>
<path d="M185 365 L190 370" stroke="#ffffff" stroke-width="8"/>
<path d="M290 211 L296 216" stroke="#ffffff" stroke-width="10"/>
<path d="M249 251 L256 254" stroke="#ffffff" stroke-width="9"/>
<path d="M297 515 L300 522" stroke="#ffffff" stroke-width="9"/>
<path d="M267 477 L280 480" stroke="#ffffff" stroke-width="7"/>
<path d="M237 605 L243 612" stroke="#ffffff" stroke-width="8"/>
<path d="M365 440 L372 446" stroke="#ffffff" stroke-width="8"/>
<path d="M417 421 L420 428" stroke="#ffffff" stroke-width="7"/>
<path d="M395 162 L398 170" stroke="#ffffff" stroke-width="7"/>
<path d="M466 230 L462 240" stroke="#ffffff" stroke-width="7"/>
<path d="M640 690 L652 700" stroke="#ffffff" stroke-width="7"/>
<path d="M560 800 L575 812" stroke="#ffffff" stroke-width="7"/>
<path d="M480 840 L500 850" stroke="#ffffff" stroke-width="7"/>
<path d="M300 760 L330 775" stroke="#ffffff" stroke-width="7"/>
<path d="M620 860 L640 870" stroke="#ffffff" stroke-width="6"/>
</g>
<g transform="translate(320,180) scale(0.2)">
<path d="M230.0 160.0 C242.0 148.0 232.0 144.0 260.0 142.0 C288.0 140.0 280.0 148.0 314.0 154.0 C348.0 160.0 330.0 158.0 362.0 160.0 C394.0 162.0 378.0 158.0 410.0 160.0 C442.0 162.0 436.0 154.0 458.0 166.0 C480.0 178.0 474.0 178.0 476.0 196.0 C478.0 214.0 476.0 205.0 464.0 220.0 C452.0 235.0 438.0 231.0 440.0 241.0 C442.0 251.0 451.0 242.0 470.0 250.0 C489.0 258.0 484.0 250.0 497.0 265.0 C510.0 280.0 510.0 280.0 509.0 295.0 C508.0 310.0 507.0 302.6 494.0 310.0 C481.0 317.4 488.0 318.2 470.0 317.2 C452.0 316.2 455.0 299.4 440.0 307.0 C425.0 314.6 434.0 324.6 425.0 340.0 C416.0 355.4 406.0 339.2 413.0 353.2 C420.0 367.2 431.0 362.4 446.0 382.0 C461.0 401.6 469.0 394.0 458.0 412.0 C447.0 430.0 419.0 424.0 413.0 436.0 C407.0 448.0 421.4 439.6 440.0 448.0 C458.6 456.4 461.2 448.2 468.8 461.2 C476.4 474.2 470.0 466.4 462.8 487.0 C455.6 507.6 457.6 502.4 447.2 523.0 C436.8 543.6 434.0 534.2 431.6 548.8 C429.2 563.4 429.2 558.4 440.0 566.8 C450.8 575.2 453.6 577.6 464.0 574.0 C474.4 570.4 470.8 572.0 471.2 556.0 C471.6 540.0 465.2 548.0 465.2 526.0 C465.2 504.0 465.2 514.0 471.2 490.0 C477.2 466.0 471.2 484.0 483.2 454.0 C495.2 424.0 494.2 434.0 507.2 400.0 C520.2 366.0 514.2 382.0 522.2 352.0 C530.2 322.0 530.2 334.0 531.2 310.0 C532.2 286.0 532.2 307.0 525.2 280.0 C518.2 253.0 510.6 251.0 510.2 229.0 C509.8 207.0 511.4 213.0 524.0 214.0 C536.6 215.0 534.0 210.0 548.0 232.0 C562.0 254.0 558.0 244.0 566.0 280.0 C574.0 316.0 572.0 300.0 572.0 340.0 C572.0 380.0 574.0 360.0 566.0 400.0 C558.0 440.0 560.0 420.0 548.0 460.0 C536.0 500.0 534.0 484.0 530.0 520.0 C526.0 556.0 538.0 542.0 536.0 568.0 C534.0 594.0 538.0 584.0 524.0 598.0 C510.0 612.0 514.0 600.0 494.0 610.0 C474.0 620.0 492.0 617.0 464.0 628.0 C436.0 639.0 444.0 643.0 410.0 643.0 C376.0 643.0 394.0 641.0 362.0 628.0 C330.0 615.0 344.0 624.0 314.0 604.0 C284.0 584.0 298.0 596.0 272.0 568.0 C246.0 540.0 253.0 548.0 236.0 520.0 C219.0 492.0 223.0 504.0 221.0 484.0 C219.0 464.0 237.0 472.0 230.0 460.0 C223.0 448.0 224.0 462.0 200.0 448.0 C176.0 434.0 174.0 436.0 158.0 418.0 C142.0 400.0 148.0 408.0 152.0 394.0 C156.0 380.0 166.0 388.0 170.0 376.0 C174.0 364.0 178.0 362.0 164.0 358.0 C150.0 354.0 146.0 370.0 128.0 364.0 C110.0 358.0 114.0 358.0 110.0 340.0 C106.0 322.0 106.0 324.0 116.0 310.0 C126.0 296.0 138.0 308.0 140.0 298.0 C142.0 288.0 140.0 296.0 122.0 280.0 C104.0 264.0 101.0 268.0 86.0 250.0 C71.0 232.0 73.0 241.0 77.0 226.0 C81.0 211.0 81.0 209.0 98.0 205.0 C115.0 201.0 112.0 219.0 128.0 214.0 C144.0 209.0 132.0 201.0 146.0 190.0 C160.0 179.0 152.0 181.0 170.0 181.0 C188.0 181.0 182.0 191.0 200.0 190.0 C218.0 189.0 214.0 188.0 224.0 178.0 C234.0 168.0 218.0 172.0 230.0 160.0Z" fill="#473285" stroke="#473285" stroke-width="8"/>
<path d="M230.0 160.0 C242.0 148.0 232.0 144.0 260.0 142.0 C288.0 140.0 280.0 148.0 314.0 154.0 C348.0 160.0 330.0 158.0 362.0 160.0 C394.0 162.0 378.0 158.0 410.0 160.0 C442.0 162.0 436.0 154.0 458.0 166.0 C480.0 178.0 474.0 178.0 476.0 196.0 C478.0 214.0 476.0 205.0 464.0 220.0 C452.0 235.0 438.0 231.0 440.0 241.0 C442.0 251.0 451.0 242.0 470.0 250.0 C489.0 258.0 484.0 250.0 497.0 265.0 C510.0 280.0 510.0 280.0 509.0 295.0 C508.0 310.0 507.0 302.6 494.0 310.0 C481.0 317.4 488.0 318.2 470.0 317.2 C452.0 316.2 455.0 299.4 440.0 307.0 C425.0 314.6 434.0 324.6 425.0 340.0 C416.0 355.4 406.0 339.2 413.0 353.2 C420.0 367.2 431.0 362.4 446.0 382.0 C461.0 401.6 469.0 394.0 458.0 412.0 C447.0 430.0 419.0 424.0 413.0 436.0 C407.0 448.0 421.4 439.6 440.0 448.0 C458.6 456.4 461.2 448.2 468.8 461.2 C476.4 474.2 470.0 466.4 462.8 487.0 C455.6 507.6 457.6 502.4 447.2 523.0 C436.8 543.6 434.0 534.2 431.6 548.8 C429.2 563.4 429.2 558.4 440.0 566.8 C450.8 575.2 453.6 577.6 464.0 574.0 C474.4 570.4 470.8 572.0 471.2 556.0 C471.6 540.0 465.2 548.0 465.2 526.0 C465.2 504.0 465.2 514.0 471.2 490.0 C477.2 466.0 471.2 484.0 483.2 454.0 C495.2 424.0 494.2 434.0 507.2 400.0 C520.2 366.0 514.2 382.0 522.2 352.0 C530.2 322.0 530.2 334.0 531.2 310.0 C532.2 286.0 532.2 307.0 525.2 280.0 C518.2 253.0 510.6 251.0 510.2 229.0 C509.8 207.0 511.4 213.0 524.0 214.0 C536.6 215.0 534.0 210.0 548.0 232.0 C562.0 254.0 558.0 244.0 566.0 280.0 C574.0 316.0 572.0 300.0 572.0 340.0 C572.0 380.0 574.0 360.0 566.0 400.0 C558.0 440.0 560.0 420.0 548.0 460.0 C536.0 500.0 534.0 484.0 530.0 520.0 C526.0 556.0 538.0 542.0 536.0 568.0 C534.0 594.0 538.0 584.0 524.0 598.0 C510.0 612.0 514.0 600.0 494.0 610.0 C474.0 620.0 492.0 617.0 464.0 628.0 C436.0 639.0 444.0 643.0 410.0 643.0 C376.0 643.0 394.0 641.0 362.0 628.0 C330.0 615.0 344.0 624.0 314.0 604.0 C284.0 584.0 298.0 596.0 272.0 568.0 C246.0 540.0 253.0 548.0 236.0 520.0 C219.0 492.0 223.0 504.0 221.0 484.0 C219.0 464.0 237.0 472.0 230.0 460.0 C223.0 448.0 224.0 462.0 200.0 448.0 C176.0 434.0 174.0 436.0 158.0 418.0 C142.0 400.0 148.0 408.0 152.0 394.0 C156.0 380.0 166.0 388.0 170.0 376.0 C174.0 364.0 178.0 362.0 164.0 358.0 C150.0 354.0 146.0 370.0 128.0 364.0 C110.0 358.0 114.0 358.0 110.0 340.0 C106.0 322.0 106.0 324.0 116.0 310.0 C126.0 296.0 138.0 308.0 140.0 298.0 C142.0 288.0 140.0 296.0 122.0 280.0 C104.0 264.0 101.0 268.0 86.0 250.0 C71.0 232.0 73.0 241.0 77.0 226.0 C81.0 211.0 81.0 209.0 98.0 205.0 C115.0 201.0 112.0 219.0 128.0 214.0 C144.0 209.0 132.0 201.0 146.0 190.0 C160.0 179.0 152.0 181.0 170.0 181.0 C188.0 181.0 182.0 191.0 200.0 190.0 C218.0 189.0 214.0 188.0 224.0 178.0 C234.0 168.0 218.0 172.0 230.0 160.0Z" fill="none" stroke="#473285" stroke-width="16" stroke-dasharray="0.1 18"/>
<path d="M512.0 235.0 C521.1 246.9 522.8 262.5 527.0 280.0 C531.2 297.5 531.4 293.2 530.0 310.0 C528.6 326.8 526.6 331.0 521.0 352.0 C515.4 373.0 515.1 376.2 506.0 400.0 C496.9 423.8 490.4 433.0 482.0 454.0 C473.6 475.0 474.2 473.2 470.0 490.0 C465.8 506.8 464.3 510.6 464.0 526.0 C463.7 541.4 470.2 546.2 468.8 556.0 C467.4 565.8 464.0 566.3 458.0 568.0 C452.0 569.7 448.3 567.7 443.0 563.2 C437.7 558.7 433.8 558.2 435.2 548.8 C436.6 539.4 442.3 537.4 449.0 523.0 C455.7 508.6 459.1 501.4 464.0 487.0 C468.9 472.6 474.9 470.0 470.0 461.2 C465.1 452.4 455.3 455.1 443.0 449.2 C430.7 443.3 413.4 444.4 417.2 436.0 C421.0 427.6 451.9 425.5 459.2 413.2 C466.5 400.9 458.5 397.2 448.4 383.2 C438.3 369.2 421.0 363.3 416.0 353.2 C411.0 343.1 420.9 350.1 426.8 340.0 C432.7 329.9 431.1 314.9 441.2 310.0 C451.3 305.1 457.4 318.7 470.0 319.0 C482.6 319.3 485.7 316.8 495.2 311.2 C504.7 305.6 510.0 305.8 510.8 295.0 C511.6 284.2 507.6 275.5 498.8 265.0 C490.0 254.5 475.5 258.4 473.0 250.0 C470.5 241.6 478.9 232.5 488.0 229.0 C497.1 225.5 502.9 223.1 512.0 235.0Z" fill="#ffffff" stroke="#ffffff" stroke-width="3"/>
<circle cx="518" cy="196" r="15" fill="#473285" stroke="none"/>
<circle cx="587" cy="295" r="15" fill="#473285" stroke="none"/>
<circle cx="560" cy="202" r="11" fill="#8a7ab0" stroke="none"/>
<path d="M318 248 L328 266" stroke="#ffffff" stroke-width="18"/>
<path d="M254 290 L262 296" stroke="#ffffff" stroke-width="12"/>
<path d="M276 240 L282 243" stroke="#ffffff" stroke-width="9"/>
<path d="M272 470 L280 475" stroke="#ffffff" stroke-width="10"/>
<path d="M372 346 L384 347" stroke="#ffffff" stroke-width="7"/>
<path d="M393 596 L397 600" stroke="#ffffff" stroke-width="9"/>
<path d="M297 537 L302 540" stroke="#ffffff" stroke-width="7"/>
<circle cx="545" cy="532" r="9" fill="#5a2a60" stroke="#4a1458" stroke-width="6"/>
<circle cx="480" cy="372" r="15" fill="#7c7479" stroke="#4a1458" stroke-width="7"/>
<circle cx="455" cy="327" r="9" fill="#5a3a6a" stroke="#4a1458" stroke-width="6"/>
<circle cx="305" cy="462" r="12" fill="#7c7479" stroke="#4a1458" stroke-width="6"/>
<circle cx="215" cy="690" r="10" fill="#7c7479" stroke="#4a1458" stroke-width="6"/>
<circle cx="525" cy="687" r="12" fill="#6a5575" stroke="#4a1458" stroke-width="8"/>
<path d="M445 25 Q490 60 495 120 L475 140" stroke="#473285" stroke-width="34"/>
<circle cx="455" cy="50" r="17" fill="#473285" stroke="none"/>
<circle cx="470" cy="20" r="17" fill="#473285" stroke="none"/>
<circle cx="500" cy="70" r="17" fill="#473285" stroke="none"/>
<circle cx="520" cy="110" r="17" fill="#473285" stroke="none"/>
<circle cx="540" cy="120" r="17" fill="#473285" stroke="none"/>
<path d="M530 10 L545 100" stroke="#473285" stroke-width="30"/>
<path d="M620 15 L625 90" stroke="#473285" stroke-width="24"/>
<path d="M700 20 Q705 80 790 103" stroke="#473285" stroke-width="30"/>
<path d="M762 155 L850 125 L905 98 M880 85 L865 150" stroke="#473285" stroke-width="30"/>
<circle cx="895" cy="100" r="18" fill="#473285" stroke="none"/>
<circle cx="905" cy="95" r="18" fill="#473285" stroke="none"/>
<path d="M575 172 L680 230 M655 130 L680 190 M600 240 L640 200" stroke="#473285" stroke-width="40"/>
<path d="M715 195 Q760 222 850 235 L915 240" stroke="#473285" stroke-width="28"/>
<path d="M925.0 200.0 C935.0 186.7 956.7 191.7 965.0 200.0 C973.3 208.3 960.0 211.7 950.0 225.0 C940.0 238.3 943.3 248.3 935.0 240.0 C926.7 231.7 915.0 213.3 925.0 200.0Z" fill="#473285" stroke="#473285" stroke-width="8"/>
<circle cx="880" cy="268" r="14" fill="#473285" stroke="none"/>
<path d="M644.0 305.0 C658.3 281.7 647.3 290.0 680.0 291.0 C712.7 292.0 698.0 302.3 742.0 308.0 C786.0 313.7 770.0 299.7 812.0 308.0 C854.0 316.3 848.0 310.7 868.0 333.0 C888.0 355.3 881.3 351.7 872.0 375.0 C862.7 398.3 860.0 384.3 840.0 403.0 C820.0 421.7 826.0 413.7 812.0 431.0 C798.0 448.3 816.7 443.3 798.0 455.0 C779.3 466.7 781.7 464.7 756.0 466.0 C730.3 467.3 723.3 452.0 721.0 459.0 C718.7 466.0 737.3 471.7 749.0 487.0 C760.7 502.3 763.0 496.7 756.0 505.0 C749.0 513.3 746.7 518.0 728.0 512.0 C709.3 506.0 723.3 497.7 700.0 487.0 C676.7 476.3 683.7 491.7 658.0 480.0 C632.3 468.3 635.7 477.7 623.0 452.0 C610.3 426.3 615.3 433.3 620.0 403.0 C624.7 372.7 629.0 393.7 637.0 361.0 C645.0 328.3 629.7 328.3 644.0 305.0Z" fill="#2e7896" stroke="#2e7896" stroke-width="10"/>
<path d="M644.0 305.0 C658.3 281.7 647.3 290.0 680.0 291.0 C712.7 292.0 698.0 302.3 742.0 308.0 C786.0 313.7 770.0 299.7 812.0 308.0 C854.0 316.3 848.0 310.7 868.0 333.0 C888.0 355.3 881.3 351.7 872.0 375.0 C862.7 398.3 860.0 384.3 840.0 403.0 C820.0 421.7 826.0 413.7 812.0 431.0 C798.0 448.3 816.7 443.3 798.0 455.0 C779.3 466.7 781.7 464.7 756.0 466.0 C730.3 467.3 723.3 452.0 721.0 459.0 C718.7 466.0 737.3 471.7 749.0 487.0 C760.7 502.3 763.0 496.7 756.0 505.0 C749.0 513.3 746.7 518.0 728.0 512.0 C709.3 506.0 723.3 497.7 700.0 487.0 C676.7 476.3 683.7 491.7 658.0 480.0 C632.3 468.3 635.7 477.7 623.0 452.0 C610.3 426.3 615.3 433.3 620.0 403.0 C624.7 372.7 629.0 393.7 637.0 361.0 C645.0 328.3 629.7 328.3 644.0 305.0Z" fill="none" stroke="#2e7896" stroke-width="18" stroke-dasharray="0.1 20"/>
<circle cx="668" cy="302" r="10" fill="#55608a" stroke="#4a1458" stroke-width="7"/>
<circle cx="620" cy="465" r="10" fill="#55608a" stroke="#4a1458" stroke-width="7"/>
<circle cx="650" cy="478" r="10" fill="#55608a" stroke="#4a1458" stroke-width="7"/>
<circle cx="700" cy="488" r="10" fill="#55608a" stroke="#4a1458" stroke-width="7"/>
<circle cx="815" cy="410" r="10" fill="#55608a" stroke="#4a1458" stroke-width="7"/>
<circle cx="800" cy="455" r="10" fill="#55608a" stroke="#4a1458" stroke-width="7"/>
<path d="M640 550 L620 590 L590 600 L610 630 M640 605 L700 610 L745 600" stroke="#4a1458" stroke-width="46"/>
<path d="M640 550 L620 590 L590 600 L610 630 M640 605 L700 610 L745 600" stroke="#7c7479" stroke-width="28"/>
<path d="M795 560 L777 595 L780 628" stroke="#a3da37" stroke-width="40"/>
<path d="M615 665 L630 690 L670 710" stroke="#4a1458" stroke-width="44"/>
<path d="M615 665 L630 690 L670 710" stroke="#7c7479" stroke-width="26"/>
<path d="M597 740 L650 752" stroke="#27ad81" stroke-width="36"/>
<path d="M578 792 Q650 768 728 755" stroke="#27ad81" stroke-width="40"/>
<circle cx="588" cy="790" r="24" fill="#27ad81" stroke="none"/>
<circle cx="600" cy="780" r="24" fill="#27ad81" stroke="none"/>
<circle cx="600" cy="740" r="9" fill="#3a8a70" stroke="#4a1458" stroke-width="7"/>
<circle cx="625" cy="808" r="9" fill="#3a8a70" stroke="#4a1458" stroke-width="7"/>
<circle cx="680" cy="785" r="9" fill="#3a8a70" stroke="#4a1458" stroke-width="7"/>
<circle cx="510" cy="815" r="15" fill="#55c467" stroke="none"/>
<circle cx="500" cy="857" r="15" fill="#27ad81" stroke="none"/>
<circle cx="525" cy="850" r="15" fill="#27ad81" stroke="none"/>
<circle cx="560" cy="868" r="15" fill="#27ad81" stroke="none"/>
<circle cx="576" cy="880" r="15" fill="#27ad81" stroke="none"/>
<circle cx="380" cy="700" r="18" fill="#2f6593" stroke="none"/>
<path d="M390 740 L430 725 L480 708" stroke="#4a1458" stroke-width="44"/>
<path d="M390 740 L430 725 L480 708" stroke="#7c7479" stroke-width="26"/>
<path d="M185 505 Q190 545 215 565" stroke="#414a8e" stroke-width="33"/>
<path d="M160 590 Q145 640 195 648 L240 615" stroke="#414a8e" stroke-width="33"/>
<path d="M272 645 Q298 680 298 715" stroke="#414a8e" stroke-width="33"/>
<path d="M402 800 L408 850" stroke="#414a8e" stroke-width="33"/>
<path d="M250 842 L270 825" stroke="#414a8e" stroke-width="33"/>
<path d="M118 912 Q155 958 215 918 Q255 892 305 888" stroke="#414a8e" stroke-width="33"/>
</g>
<g transform="translate(270,230) scale(0.2)">
<path d="M546.0 634.0 C562.0 615.3 551.3 602.0 578.0 602.0 C604.7 602.0 588.7 618.0 626.0 634.0 C663.3 650.0 652.7 634.0 690.0 650.0 C727.3 666.0 710.0 658.0 738.0 682.0 C766.0 706.0 776.7 700.7 774.0 722.0 C771.3 743.3 763.3 731.3 730.0 746.0 C696.7 760.7 708.7 758.0 674.0 766.0 C639.3 774.0 658.0 776.7 626.0 770.0 C594.0 763.3 604.7 770.0 578.0 746.0 C551.3 722.0 562.0 727.3 546.0 698.0 C530.0 668.7 530.0 679.3 530.0 658.0 C530.0 636.7 530.0 652.7 546.0 634.0Z" stroke="#414a8e" stroke-width="33"/>
<circle cx="562" cy="660" r="20" fill="#414a8e" stroke="none"/>
<circle cx="582" cy="690" r="20" fill="#414a8e" stroke="none"/>
<circle cx="600" cy="655" r="20" fill="#414a8e" stroke="none"/>
<circle cx="575" cy="630" r="20" fill="#414a8e" stroke="none"/>
<circle cx="590" cy="612" r="20" fill="#414a8e" stroke="none"/>
<circle cx="612" cy="700" r="20" fill="#414a8e" stroke="none"/>
<circle cx="610" cy="704" r="15" fill="#414a8e" stroke="none"/>
<circle cx="660" cy="718" r="15" fill="#414a8e" stroke="none"/>
<circle cx="745" cy="710" r="15" fill="#414a8e" stroke="none"/>
<circle cx="720" cy="690" r="15" fill="#414a8e" stroke="none"/>
<circle cx="374" cy="730" r="9" fill="#4a3a80" stroke="#4a1458" stroke-width="5"/>
<path d="M655 550 L662 600" stroke="#414a8e" stroke-width="33"/>
<path d="M500 590 L520 575" stroke="#414a8e" stroke-width="33"/>
<path d="M150 800 Q250 795 345 755" stroke="#414a8e" stroke-width="28"/>
<path d="M375 735 Q412 770 385 830 L370 855" stroke="#414a8e" stroke-width="28"/>
<path d="M440 870 L480 812 L510 780" stroke="#473285" stroke-width="28"/>
<circle cx="462" cy="800" r="13" fill="#473285" stroke="none"/>
<path d="M0 855 Q100 860 200 893 L312 906" stroke="#481b6d" stroke-width="36"/>
<circle cx="60" cy="855" r="21" fill="#481b6d" stroke="none"/>
<circle cx="150" cy="880" r="21" fill="#481b6d" stroke="none"/>
<circle cx="230" cy="900" r="21" fill="#481b6d" stroke="none"/>
<circle cx="265" cy="885" r="9" fill="#5a3060" stroke="#4a1458" stroke-width="5"/>
<circle cx="310" cy="905" r="9" fill="#5a3060" stroke="#4a1458" stroke-width="5"/>
<path d="M430 255 Q445 295 465 320" stroke="#414a8e" stroke-width="33"/>
</g>
<g transform="translate(430,230) scale(0.2)">
<circle cx="35" cy="45" r="15" fill="#473285" stroke="none"/>
<circle cx="330" cy="15" r="15" fill="#473285" stroke="none"/>
<circle cx="60" cy="0" r="15" fill="#473285" stroke="none"/>
</g>
<g transform="translate(220,90) scale(0.12)">
<path d="M435 85 L415 135 Q390 170 360 178" stroke="#395e93" stroke-width="50"/>
<path d="M520 65 L550 52" stroke="#395e93" stroke-width="50"/>
<path d="M295 195 L285 275 L325 325 L335 385 L357 432" stroke="#395e93" stroke-width="50"/>
<path d="M380 250 L360 300 L325 325" stroke="#395e93" stroke-width="50"/>
<path d="M470 262 Q455 310 412 347" stroke="#395e93" stroke-width="50"/>
<path d="M580.0 275.0 C556.0 285.0 570.0 278.3 540.0 320.0 C510.0 361.7 523.3 350.0 490.0 400.0 C456.7 450.0 460.0 430.0 440.0 470.0 C420.0 510.0 426.7 486.7 430.0 520.0 C433.3 553.3 450.0 548.3 450.0 570.0 C450.0 591.7 423.3 566.7 430.0 585.0 C436.7 603.3 446.7 596.7 470.0 625.0 C493.3 653.3 470.0 645.0 500.0 670.0 C530.0 695.0 520.0 686.0 560.0 700.0 C600.0 714.0 586.0 715.3 620.0 712.0 C654.0 708.7 650.3 720.7 662.0 690.0 C673.7 659.3 662.3 656.7 655.0 620.0 C647.7 583.3 661.7 606.7 640.0 580.0 C618.3 553.3 616.0 562.7 590.0 540.0 C564.0 517.3 558.7 534.7 562.0 512.0 C565.3 489.3 567.3 488.7 600.0 472.0 C632.7 455.3 632.7 479.3 660.0 462.0 C687.3 444.7 685.3 444.0 682.0 420.0 C678.7 396.0 670.0 416.7 650.0 390.0 C630.0 363.3 634.7 373.3 622.0 340.0 C609.3 306.7 626.0 311.7 612.0 290.0 C598.0 268.3 604.0 265.0 580.0 275.0Z" fill="#386597" stroke="#386597" stroke-width="20"/>
<path d="M565.0 395.0 C536.0 405.0 539.3 415.0 515.0 450.0 C490.7 485.0 490.3 469.3 492.0 500.0 C493.7 530.7 504.0 542.0 520.0 542.0 C536.0 542.0 517.3 527.3 540.0 500.0 C562.7 472.7 567.3 486.7 588.0 460.0 C608.7 433.3 609.7 441.7 602.0 420.0 C594.3 398.3 594.0 385.0 565.0 395.0Z" fill="#ffffff" stroke="#ffffff" stroke-width="4"/>
<path d="M560 625 Q600 655 625 630" stroke="#ffffff" stroke-width="14"/>
<path d="M640.0 520.0 C652.7 508.7 663.3 512.0 700.0 528.0 C736.7 544.0 742.7 546.7 750.0 568.0 C757.3 589.3 751.3 594.0 722.0 592.0 C692.7 590.0 689.3 586.0 662.0 562.0 C634.7 538.0 627.3 531.3 640.0 520.0Z" fill="#386597" stroke="#386597" stroke-width="22"/>
<path d="M545 745 L600 775" stroke="#386597" stroke-width="58"/>
<ellipse cx="220" cy="495" rx="95" ry="42" fill="#395e93"/>
<circle cx="150" cy="490" r="30" fill="#395e93" stroke="none"/>
<circle cx="290" cy="492" r="30" fill="#395e93" stroke="none"/>
<circle cx="215" cy="462" r="30" fill="#395e93" stroke="none"/>
<circle cx="250" cy="470" r="30" fill="#395e93" stroke="none"/>
<circle cx="190" cy="470" r="30" fill="#395e93" stroke="none"/>
<path d="M130.0 650.0 C133.3 610.0 136.7 616.7 160.0 600.0 C183.3 583.3 180.0 583.3 200.0 600.0 C220.0 616.7 193.3 631.7 220.0 650.0 C246.7 668.3 253.3 671.7 280.0 655.0 C306.7 638.3 283.3 631.7 300.0 600.0 C316.7 568.3 306.7 569.3 330.0 560.0 C353.3 550.7 355.0 552.0 370.0 572.0 C385.0 592.0 358.3 597.3 375.0 620.0 C391.7 642.7 405.0 623.3 420.0 640.0 C435.0 656.7 436.7 653.3 420.0 670.0 C403.3 686.7 393.3 670.0 370.0 690.0 C346.7 710.0 373.3 720.0 350.0 730.0 C326.7 740.0 326.7 733.3 300.0 720.0 C273.3 706.7 293.3 696.7 270.0 690.0 C246.7 683.3 246.0 683.3 230.0 700.0 C214.0 716.7 238.7 719.3 222.0 740.0 C205.3 760.7 204.0 768.7 180.0 762.0 C156.0 755.3 166.7 757.3 150.0 720.0 C133.3 682.7 126.7 690.0 130.0 650.0Z" fill="#395e93" stroke="#395e93" stroke-width="24"/>
<path d="M185 700 L195 730" stroke="#ffffff" stroke-width="14"/>
<path d="M255 625 L262 640" stroke="#ffffff" stroke-width="12"/>
<path d="M100 565 L60 610 L20 640" stroke="#395e93" stroke-width="50"/>
<circle cx="40" cy="670" r="28" fill="#395e93" stroke="none"/>
<circle cx="45" cy="700" r="28" fill="#395e93" stroke="none"/>
<circle cx="25" cy="700" r="28" fill="#395e93" stroke="none"/>
<path d="M-10 802 L50 785 L105 790" stroke="#395e93" stroke-width="56"/>
<circle cx="150" cy="805" r="26" fill="#395e93" stroke="none"/>
<path d="M250 765 L300 772 L282 812 L240 842 L300 872" stroke="#395e93" stroke-width="44"/>
<path d="M372 800 L357 842" stroke="#395e93" stroke-width="50"/>
<path d="M440 742 L500 808 L440 822" stroke="#395e93" stroke-width="50"/>
<path d="M100.0 870.0 C118.3 853.3 116.7 851.7 150.0 855.0 C183.3 858.3 178.3 855.0 200.0 880.0 C221.7 905.0 221.7 905.0 215.0 930.0 C208.3 955.0 208.3 951.7 180.0 955.0 C151.7 958.3 158.3 956.7 130.0 940.0 C101.7 923.3 105.0 928.3 95.0 905.0 C85.0 881.7 81.7 886.7 100.0 870.0Z" fill="#395e93" stroke="#395e93" stroke-width="20"/>
<path d="M55 950 L0 992" stroke="#395e93" stroke-width="50"/>
<path d="M640.0 40.0 C660.0 16.7 663.3 13.3 700.0 20.0 C736.7 26.7 733.3 30.0 750.0 60.0 C766.7 90.0 760.0 80.0 750.0 110.0 C740.0 140.0 753.3 130.0 720.0 150.0 C686.7 170.0 696.7 156.7 650.0 170.0 C603.3 183.3 626.0 181.3 580.0 190.0 C534.0 198.7 538.0 200.7 512.0 196.0 C486.0 191.3 486.0 191.3 502.0 176.0 C518.0 160.7 520.7 165.3 560.0 150.0 C599.3 134.7 593.3 150.0 620.0 130.0 C646.7 110.0 633.3 120.0 640.0 90.0 C646.7 60.0 620.0 63.3 640.0 40.0Z" fill="#404c8f" stroke="#404c8f" stroke-width="22"/>
<path d="M790 622 Q740 680 742 760 Q760 830 730 890 L690 960" stroke="#414a8e" stroke-width="50"/>
<path d="M680 775 L655 835" stroke="#414a8e" stroke-width="58"/>
<circle cx="830" cy="700" r="28" fill="#414a8e" stroke="none"/>
<path d="M800 775 L825 800" stroke="#414a8e" stroke-width="40"/>
<path d="M970 772 Q900 752 862 792 Q870 840 960 852" stroke="#414a8e" stroke-width="50"/>
</g>
</g>
<rect x="70.5" y="34.5" width="462" height="395" fill="none" stroke="#727272" stroke-width="1.4"/>
<rect x="561.5" y="34.5" width="24" height="395.5" fill="url(#cb)" stroke="#666655" stroke-opacity="0.85" stroke-width="1.1"/>
<line x1="67" y1="39.2" x2="70.5" y2="39.2" stroke="#444" stroke-width="1"/>
<text x="63.8" y="42.4" font-size="8.3" fill="#333" stroke="#333" stroke-width="0.25" text-anchor="end" textLength="14.2" lengthAdjust="spacingAndGlyphs">150</text>
<line x1="67" y1="104.7" x2="70.5" y2="104.7" stroke="#444" stroke-width="1"/>
<text x="63.8" y="107.9" font-size="8.3" fill="#333" stroke="#333" stroke-width="0.25" text-anchor="end" textLength="14.2" lengthAdjust="spacingAndGlyphs">100</text>
<line x1="67" y1="170.2" x2="70.5" y2="170.2" stroke="#444" stroke-width="1"/>
<text x="63.8" y="173.4" font-size="8.3" fill="#333" stroke="#333" stroke-width="0.25" text-anchor="end" textLength="9.6" lengthAdjust="spacingAndGlyphs">50</text>
<line x1="67" y1="235.8" x2="70.5" y2="235.8" stroke="#444" stroke-width="1"/>
<text x="63.8" y="239.0" font-size="8.3" fill="#333" stroke="#333" stroke-width="0.25" text-anchor="end" textLength="4.8" lengthAdjust="spacingAndGlyphs">0</text>
<line x1="67" y1="301.4" x2="70.5" y2="301.4" stroke="#444" stroke-width="1"/>
<text x="63.8" y="304.6" font-size="8.3" fill="#333" stroke="#333" stroke-width="0.25" text-anchor="end" textLength="15.5" lengthAdjust="spacingAndGlyphs">−50</text>
<line x1="67" y1="366.9" x2="70.5" y2="366.9" stroke="#444" stroke-width="1"/>
<text x="63.8" y="370.1" font-size="8.3" fill="#333" stroke="#333" stroke-width="0.25" text-anchor="end" textLength="20.3" lengthAdjust="spacingAndGlyphs">−100</text>
<line x1="82.5" y1="429.5" x2="82.5" y2="432.3" stroke="#444" stroke-width="0.9"/>
<text x="82.2" y="440.9" font-size="8.4" fill="#333" stroke="#333" stroke-width="0.25" text-anchor="middle" textLength="22" lengthAdjust="spacingAndGlyphs">−150</text>
<line x1="585.5" y1="401.8" x2="589" y2="401.8" stroke="#444" stroke-width="0.9"/>
<text x="592" y="405.0" font-size="8.3" fill="#333" stroke="#333" stroke-width="0.25" textLength="4.8" lengthAdjust="spacingAndGlyphs">0</text>
<line x1="585.5" y1="345.2" x2="589" y2="345.2" stroke="#444" stroke-width="0.9"/>
<text x="592" y="348.4" font-size="8.3" fill="#333" stroke="#333" stroke-width="0.25" textLength="4.8" lengthAdjust="spacingAndGlyphs">2</text>
<line x1="585.5" y1="288.7" x2="589" y2="288.7" stroke="#444" stroke-width="0.9"/>
<text x="592" y="291.9" font-size="8.3" fill="#333" stroke="#333" stroke-width="0.25" textLength="4.8" lengthAdjust="spacingAndGlyphs">4</text>
<line x1="585.5" y1="232.1" x2="589" y2="232.1" stroke="#444" stroke-width="0.9"/>
<text x="592" y="235.3" font-size="8.3" fill="#333" stroke="#333" stroke-width="0.25" textLength="4.8" lengthAdjust="spacingAndGlyphs">6</text>
<line x1="585.5" y1="175.6" x2="589" y2="175.6" stroke="#444" stroke-width="0.9"/>
<text x="592" y="178.8" font-size="8.3" fill="#333" stroke="#333" stroke-width="0.25" textLength="4.8" lengthAdjust="spacingAndGlyphs">8</text>
<line x1="585.5" y1="119.0" x2="589" y2="119.0" stroke="#444" stroke-width="0.9"/>
<text x="592" y="122.2" font-size="8.3" fill="#333" stroke="#333" stroke-width="0.25" textLength="9.6" lengthAdjust="spacingAndGlyphs">10</text>
<line x1="585.5" y1="62.4" x2="589" y2="62.4" stroke="#444" stroke-width="0.9"/>
<text x="592" y="65.6" font-size="8.3" fill="#333" stroke="#333" stroke-width="0.25" textLength="9.6" lengthAdjust="spacingAndGlyphs">12</text>
<text transform="translate(36,233) rotate(-90)" font-size="7.4" fill="#333" stroke="#333" stroke-width="0.25" text-anchor="middle" textLength="57" lengthAdjust="spacingAndGlyphs">t-SNE feature 2</text>
<text x="301" y="29.8" font-size="8.8" fill="#333" stroke="#333" stroke-width="0.25" text-anchor="middle" textLength="206" lengthAdjust="spacingAndGlyphs">DBSCAN Clustering Visualization (t-SNE)</text>
</g>
<g id="fig2">
<rect x="100" y="415" width="900" height="585" fill="#fdf9f8"/>
<rect x="107.5" y="421" width="885" height="590" fill="#ffffff"/>
<g filter="url(#bl2)">
<ellipse cx="385" cy="415.4" rx="7" ry="0.9" fill="#9a9a9a"/>
<ellipse cx="808" cy="415.2" rx="6" ry="0.8" fill="#b5b5b5"/>
<line x1="107" y1="421" x2="993" y2="421" stroke="#858585" stroke-width="1.9"/>
<line x1="107.5" y1="421" x2="107.5" y2="1000" stroke="#333" stroke-width="1.6"/>
<line x1="992.5" y1="421" x2="992.5" y2="1000" stroke="#777" stroke-width="1.5"/>
<line x1="162.0" y1="857.7" x2="985.0" y2="857.7" stroke="#d4d4d4" stroke-width="1.2"/>
<line x1="162.0" y1="757.4" x2="985.0" y2="757.4" stroke="#d4d4d4" stroke-width="1.2"/>
<line x1="162.0" y1="657.1" x2="985.0" y2="657.1" stroke="#d4d4d4" stroke-width="1.2"/>
<line x1="162.0" y1="556.8" x2="985.0" y2="556.8" stroke="#d4d4d4" stroke-width="1.2"/>
<line x1="162.0" y1="456.5" x2="985.0" y2="456.5" stroke="#d4d4d4" stroke-width="1.2"/>
<rect x="183.4" y="490.1" width="81.5" height="467.9" fill="#3e6683"/>
<rect x="264.9" y="475.0" width="81.5" height="483.0" fill="#48a878"/>
<line x1="264.9" y1="475.0" x2="264.9" y2="958.0" stroke="#e8eef0" stroke-width="1"/>
<text x="224.1" y="484.9" font-size="10.6" fill="#3a3a3a" stroke="#3a3a3a" stroke-width="0.25" text-anchor="middle" textLength="35" lengthAdjust="spacingAndGlyphs">0.9349</text>
<text x="305.6" y="469.8" font-size="10.6" fill="#3a3a3a" stroke="#3a3a3a" stroke-width="0.25" text-anchor="middle" textLength="35" lengthAdjust="spacingAndGlyphs">0.9652</text>
<rect x="389.1" y="488.9" width="81.5" height="469.1" fill="#3e6683"/>
<rect x="470.6" y="472.2" width="81.5" height="485.8" fill="#48a878"/>
<line x1="470.6" y1="472.2" x2="470.6" y2="958.0" stroke="#e8eef0" stroke-width="1"/>
<text x="429.9" y="483.7" font-size="10.6" fill="#3a3a3a" stroke="#3a3a3a" stroke-width="0.25" text-anchor="middle" textLength="35" lengthAdjust="spacingAndGlyphs">0.9374</text>
<text x="511.4" y="467.0" font-size="10.6" fill="#3a3a3a" stroke="#3a3a3a" stroke-width="0.25" text-anchor="middle" textLength="35" lengthAdjust="spacingAndGlyphs">0.9706</text>
<rect x="594.9" y="490.1" width="81.5" height="467.9" fill="#3e6683"/>
<rect x="676.4" y="475.0" width="81.5" height="483.0" fill="#48a878"/>
<line x1="676.4" y1="475.0" x2="676.4" y2="958.0" stroke="#e8eef0" stroke-width="1"/>
<text x="635.6" y="484.9" font-size="10.6" fill="#3a3a3a" stroke="#3a3a3a" stroke-width="0.25" text-anchor="middle" textLength="35" lengthAdjust="spacingAndGlyphs">0.9349</text>
<text x="717.1" y="469.8" font-size="10.6" fill="#3a3a3a" stroke="#3a3a3a" stroke-width="0.25" text-anchor="middle" textLength="35" lengthAdjust="spacingAndGlyphs">0.9652</text>
<rect x="800.6" y="491.6" width="81.5" height="466.4" fill="#3e6683"/>
<rect x="882.1" y="475.3" width="81.5" height="482.7" fill="#48a878"/>
<line x1="882.1" y1="475.3" x2="882.1" y2="958.0" stroke="#e8eef0" stroke-width="1"/>
<text x="841.4" y="486.4" font-size="10.6" fill="#3a3a3a" stroke="#3a3a3a" stroke-width="0.25" text-anchor="middle" textLength="35" lengthAdjust="spacingAndGlyphs">0.9320</text>
<text x="922.9" y="470.1" font-size="10.6" fill="#3a3a3a" stroke="#3a3a3a" stroke-width="0.25" text-anchor="middle" textLength="35" lengthAdjust="spacingAndGlyphs">0.9645</text>
<rect x="162.0" y="446.0" width="823.0" height="512.0" fill="none" stroke="#cfcfcf" stroke-width="1.3"/>
<text x="152" y="962.4" font-size="12.2" fill="#3a3a3a" stroke="#3a3a3a" stroke-width="0.25" text-anchor="end" textLength="17.5" lengthAdjust="spacingAndGlyphs">0.0</text>
<text x="152" y="862.1" font-size="12.2" fill="#3a3a3a" stroke="#3a3a3a" stroke-width="0.25" text-anchor="end" textLength="17.5" lengthAdjust="spacingAndGlyphs">0.2</text>
<text x="152" y="761.8" font-size="12.2" fill="#3a3a3a" stroke="#3a3a3a" stroke-width="0.25" text-anchor="end" textLength="17.5" lengthAdjust="spacingAndGlyphs">0.4</text>
<text x="152" y="661.5" font-size="12.2" fill="#3a3a3a" stroke="#3a3a3a" stroke-width="0.25" text-anchor="end" textLength="17.5" lengthAdjust="spacingAndGlyphs">0.6</text>
<text x="152" y="561.2" font-size="12.2" fill="#3a3a3a" stroke="#3a3a3a" stroke-width="0.25" text-anchor="end" textLength="17.5" lengthAdjust="spacingAndGlyphs">0.8</text>
<text x="152" y="460.9" font-size="12.2" fill="#3a3a3a" stroke="#3a3a3a" stroke-width="0.25" text-anchor="end" textLength="17.5" lengthAdjust="spacingAndGlyphs">1.0</text>
<text x="264.9" y="976.5" font-size="11.6" fill="#333" stroke="#333" stroke-width="0.25" text-anchor="middle" textLength="51.5" lengthAdjust="spacingAndGlyphs">Accuracy</text>
<text x="470.6" y="976.5" font-size="11.6" fill="#333" stroke="#333" stroke-width="0.25" text-anchor="middle" textLength="51.0" lengthAdjust="spacingAndGlyphs">Precision</text>
<text x="676.4" y="976.5" font-size="11.6" fill="#333" stroke="#333" stroke-width="0.25" text-anchor="middle" textLength="32.0" lengthAdjust="spacingAndGlyphs">Recall</text>
<text x="882.1" y="976.5" font-size="11.6" fill="#333" stroke="#333" stroke-width="0.25" text-anchor="middle" textLength="49.0" lengthAdjust="spacingAndGlyphs">F1-Score</text>
<text x="572.5" y="993.5" font-size="13.6" fill="#333" stroke="#333" stroke-width="0.25" text-anchor="middle" textLength="45" lengthAdjust="spacingAndGlyphs">Metric</text>
<text transform="translate(126,703) rotate(-90)" font-size="13.6" fill="#333" stroke="#333" stroke-width="0.25" text-anchor="middle" textLength="39" lengthAdjust="spacingAndGlyphs">Value</text>
<text x="573.5" y="441.3" font-size="16.6" fill="#3a3a3a" stroke="#3a3a3a" stroke-width="0.25" text-anchor="middle" textLength="652" lengthAdjust="spacingAndGlyphs">Comparison of Deep Learning Models, RNN and LSTM , Across Multiple Metrics</text>
<rect x="908" y="452" width="71" height="56.5" rx="3" ry="3" fill="#ffffff" fill-opacity="0.8" stroke="#d9d9d9" stroke-width="1"/>
<text x="943.5" y="466.6" font-size="12.6" fill="#333" stroke="#333" stroke-width="0.25" text-anchor="middle" textLength="36" lengthAdjust="spacingAndGlyphs">Model</text>
<rect x="913.4" y="478.2" width="21.2" height="6.5" fill="#3e6683"/>
<rect x="913.4" y="494.8" width="21.2" height="6.5" fill="#48a878"/>
<text x="944.8" y="485.2" font-size="11.8" fill="#333" stroke="#333" stroke-width="0.25" textLength="23.4" lengthAdjust="spacingAndGlyphs">RNN</text>
<text x="944.8" y="501.5" font-size="11.8" fill="#333" stroke="#333" stroke-width="0.25" textLength="28.6" lengthAdjust="spacingAndGlyphs">LSTM</text>
</g>
</g>
</svg>
</body></html>
